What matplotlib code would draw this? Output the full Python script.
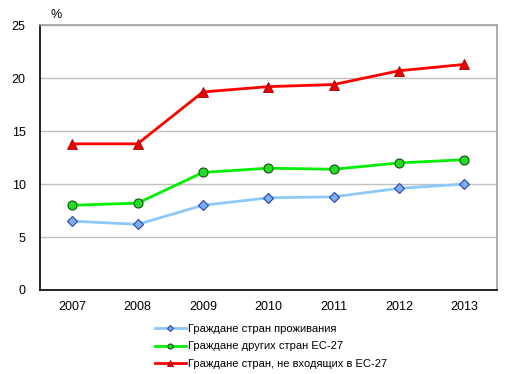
import matplotlib
matplotlib.use("Agg")
import matplotlib.pyplot as plt

plt.rcParams['font.family'] = ['Liberation Sans', 'DejaVu Sans']

years = ["2007", "2008", "2009", "2010", "2011", "2012", "2013"]
home = [6.5, 6.2, 8.0, 8.7, 8.8, 9.6, 10.0]
eu_other = [8.0, 8.2, 11.1, 11.5, 11.4, 12.0, 12.3]
non_eu = [13.8, 13.8, 18.7, 19.2, 19.4, 20.7, 21.3]
labels = ["Граждане стран проживания",
          "Граждане других стран ЕС-27",
          "Граждане стран, не входящих в ЕС-27"]
yticks = [0, 5, 10, 15, 20, 25]

fig = plt.figure(figsize=(5.13, 3.74), dpi=100)
ax = fig.add_axes([0.077, 0.2246, 0.892, 0.708])
x = list(range(len(years)))

ax.plot(x, home, color='#8cc8f8', lw=2, marker='D', ms=5.5,
        mfc='#7ab0f0', mec='#2a3fb0', mew=0.8, label=labels[0], zorder=3)
ax.plot(x, eu_other, color='#00ee00', lw=2, marker='o', ms=6.5,
        mfc='#22dd22', mec='#105010', mew=0.8, label=labels[1], zorder=3)
ax.plot(x, non_eu, color='#ff0000', lw=2, marker='^', ms=7.5,
        mfc='#ee0000', mec='#a00000', mew=0.6, label=labels[2], zorder=3)

ax.set_xlim(-0.5, len(years) - 0.5)
ax.set_ylim(0, 25)
ax.set_yticks(yticks)
ax.set_yticklabels([str(v) for v in yticks])
ax.set_xticks(x)
ax.set_xticklabels(years)
ax.tick_params(length=0, labelsize=9, pad=10)
ax.tick_params(axis='x', pad=8)
ax.grid(axis='y', color='#c0c0c0', lw=1)
ax.set_axisbelow(True)
for s in ['left', 'bottom']:
    ax.spines[s].set_color('black')
    ax.spines[s].set_linewidth(1.2)
for s in ['top', 'right']:
    ax.spines[s].set_color('#a0a0a0')
    ax.spines[s].set_linewidth(1.2)

fig.text(0.098, 0.945, "%", fontsize=9, ha='left', va='bottom')

leg = fig.legend(loc='upper left', bbox_to_anchor=(0.302, 0.133),
                 frameon=False, fontsize=8, handlelength=2.8,
                 handletextpad=0.2, labelspacing=0.65, borderaxespad=0,
                 borderpad=0, markerscale=0.55)

fig.savefig("out.png", dpi=100, facecolor='white')
